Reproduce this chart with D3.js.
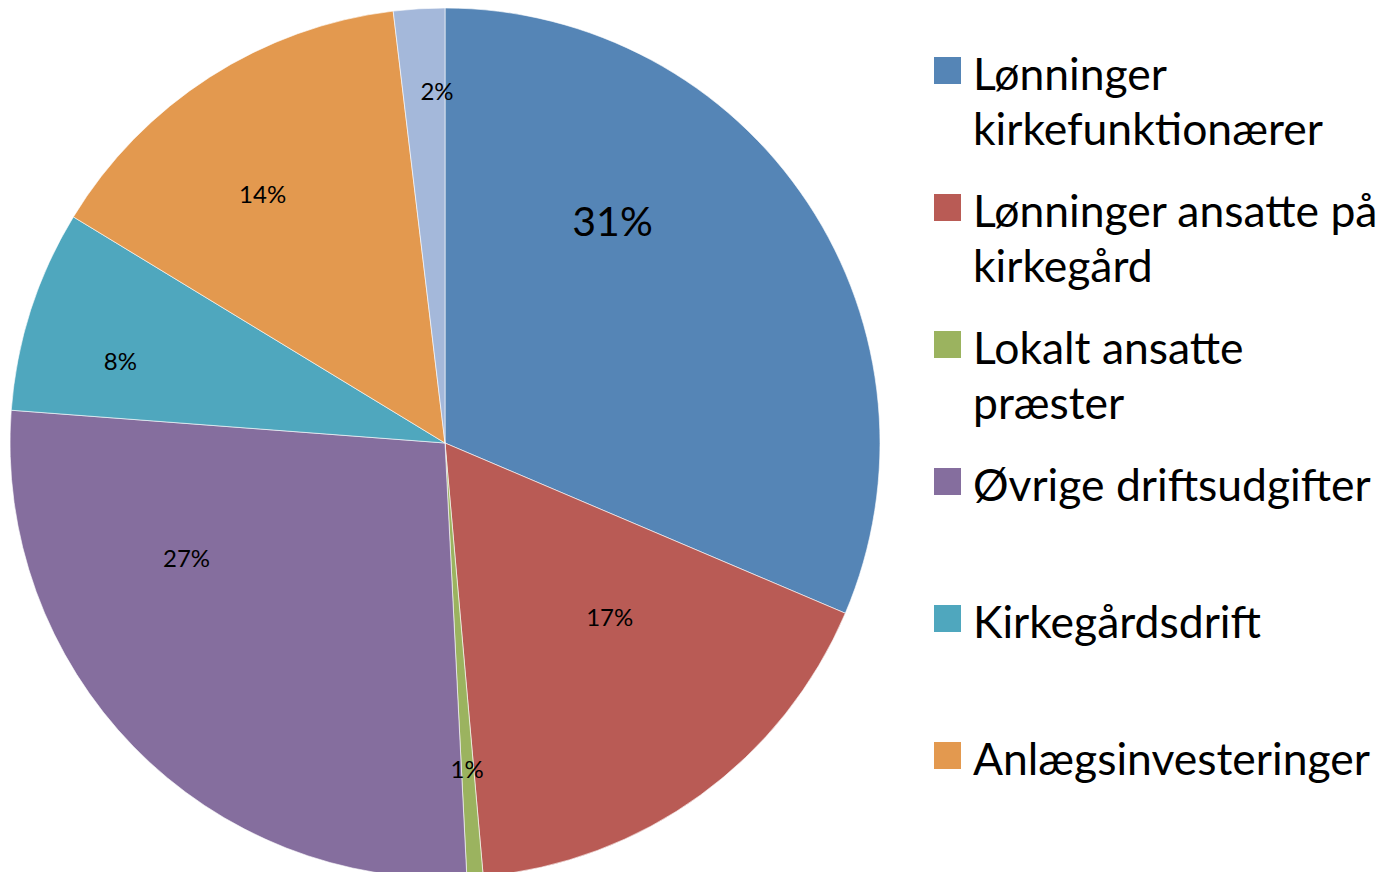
<!DOCTYPE html>
<html>
<head>
<meta charset="utf-8">
<script src="https://cdn.jsdelivr.net/npm/d3@7"></script>
<style>
  html, body { margin: 0; padding: 0; background: #fff; overflow: hidden; }
  text { font-family: Lato, "Open Sans", sans-serif; fill: #000; }
</style>
</head>
<body>
<div id="chart"></div>
<script>
// data
var categories = ['Lønninger kirkefunktionærer', 'Lønninger ansatte på kirkegård', 'Lokalt ansatte præster',
                  'Øvrige driftsudgifter', 'Kirkegårdsdrift', 'Anlægsinvesteringer', 'Øvrige'];
var values = [31.4, 17.2, 0.6, 27.0, 7.5, 14.4, 1.9];
var pctLabels = ['31%', '17%', '1%', '27%', '8%', '14%', '2%'];

var colors = ['#5585b6', '#b95b55', '#9bb35f', '#856e9e', '#4fa7be', '#e3994f', '#a4b8da'];

// label placement (angle in degrees clockwise from top, fraction of radius), like excel's best fit
var labelPolar = [[37, 0.64], [136.5, 0.55], [176.1, 0.75], [246.1, 0.65], [284.3, 0.77], [323.8, 0.71], [358.7, 0.81]];
var labelSize = [41, 24, 24, 24, 24, 24, 24];

var W = 1394, H = 872;
var cx = 445, cy = 443, R = 435;

var svg = d3.select('#chart').append('svg')
    .attr('width', W)
    .attr('height', H);

var rows = categories.map(function (c, i) { return {name: c, value: values[i], label: pctLabels[i], i: i}; });

var pie = d3.pie().sort(null).value(function (d) { return d.value; });
var arc = d3.arc().innerRadius(0).outerRadius(R);

var g = svg.append('g').attr('transform', 'translate(' + cx + ',' + cy + ')');

g.selectAll('path.slice')
  .data(pie(rows))
  .enter().append('path')
    .attr('class', 'slice')
    .attr('d', arc)
    .attr('fill', function (d) { return colors[d.data.i]; })
    .attr('stroke', '#fff')
    .attr('stroke-opacity', 0.6)
    .attr('stroke-width', 1);

g.selectAll('text.pct')
  .data(pie(rows))
  .enter().append('text')
    .attr('class', 'pct')
    .attr('x', function (d) { var p = labelPolar[d.data.i]; return Math.sin(p[0] * Math.PI / 180) * p[1] * R; })
    .attr('y', function (d) { var p = labelPolar[d.data.i]; return -Math.cos(p[0] * Math.PI / 180) * p[1] * R; })
    .attr('text-anchor', 'middle')
    .attr('dominant-baseline', 'central')
    .attr('font-size', function (d) { return labelSize[d.data.i] + 'px'; })
    .text(function (d) { return d.data.label; });

// legend
var legX = 934, legTop = 57, legStep = 137, sq = 27, textX = 973, lineH = 55, maxW = 415;

var legend = svg.append('g').attr('class', 'legend');

// size the font so the single-line entry fits like the original
var probe = legend.append('text').attr('font-size', '100px').text('Anlægsinvesteringer');
var fs = 100 * 397 / probe.node().getComputedTextLength();
probe.remove();

rows.forEach(function (d, i) {
  var y0 = legTop + i * legStep;
  // entries that don't fit in the chart area are dropped (as the original legend does)
  if (y0 + sq > H) return;
  legend.append('rect')
    .attr('x', legX)
    .attr('y', y0)
    .attr('width', sq)
    .attr('height', sq)
    .attr('fill', colors[i]);

  var t = legend.append('text')
    .attr('x', textX)
    .attr('y', y0 + 33)
    .attr('font-size', fs + 'px');

  // simple word wrap
  var words = d.name.split(' ');
  var line = [];
  var tspan = t.append('tspan').attr('x', textX).attr('dy', 0);
  words.forEach(function (w) {
    line.push(w);
    tspan.text(line.join(' '));
    if (tspan.node().getComputedTextLength() > maxW && line.length > 1) {
      line.pop();
      tspan.text(line.join(' '));
      line = [w];
      tspan = t.append('tspan').attr('x', textX).attr('dy', lineH).text(w);
    }
  });
});
</script>
</body>
</html>
